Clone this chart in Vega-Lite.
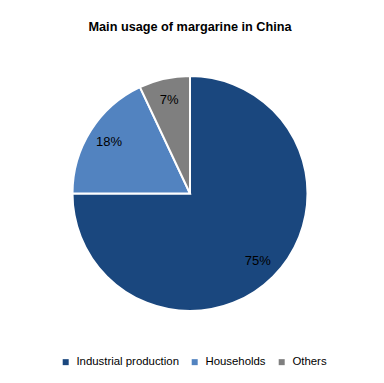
{
  "$schema": "https://vega.github.io/schema/vega-lite/v6.json",
  "width": 380,
  "height": 307,
  "autosize": "none",
  "padding": {"top": 40, "left": 0, "right": 4, "bottom": 36},
  "background": "white",
  "title": {
    "text": "Main usage of margarine in China",
    "font": "Liberation Sans",
    "fontSize": 12.7,
    "fontWeight": "bold",
    "color": "#000000",
    "anchor": "middle",
    "offset": 6
  },
  "data": {
    "values": [
      {"usage": "Industrial production", "share": 75, "rank": 1, "label": "75%"},
      {"usage": "Households", "share": 18, "rank": 2, "label": "18%"},
      {"usage": "Others", "share": 7, "rank": 3, "label": "7%"}
    ]
  },
  "encoding": {
    "theta": {"field": "share", "type": "quantitative", "stack": true},
    "order": {"field": "rank", "type": "quantitative"}
  },
  "layer": [
    {
      "mark": {"type": "arc", "outerRadius": 117.5, "stroke": "white", "strokeWidth": 2},
      "encoding": {
        "color": {
          "field": "usage",
          "type": "nominal",
          "scale": {
            "domain": ["Industrial production", "Households", "Others"],
            "range": ["#1a477e", "#5283c0", "#7f7f7f"]
          },
          "legend": {
            "title": null,
            "orient": "none",
            "direction": "horizontal",
            "legendX": 60,
            "legendY": 316,
            "padding": 0,
            "symbolType": "square",
            "symbolSize": 36,
            "symbolStrokeWidth": 0,
            "labelFont": "Liberation Sans",
            "labelFontSize": 11.4,
            "labelColor": "#000000",
            "labelOffset": 5,
            "columnPadding": 10
          }
        }
      }
    },
    {
      "mark": {"type": "text", "radius": 96, "font": "Liberation Sans", "fontSize": 13, "color": "#000000"},
      "encoding": {
        "text": {"field": "label", "type": "nominal"}
      }
    }
  ]
}
